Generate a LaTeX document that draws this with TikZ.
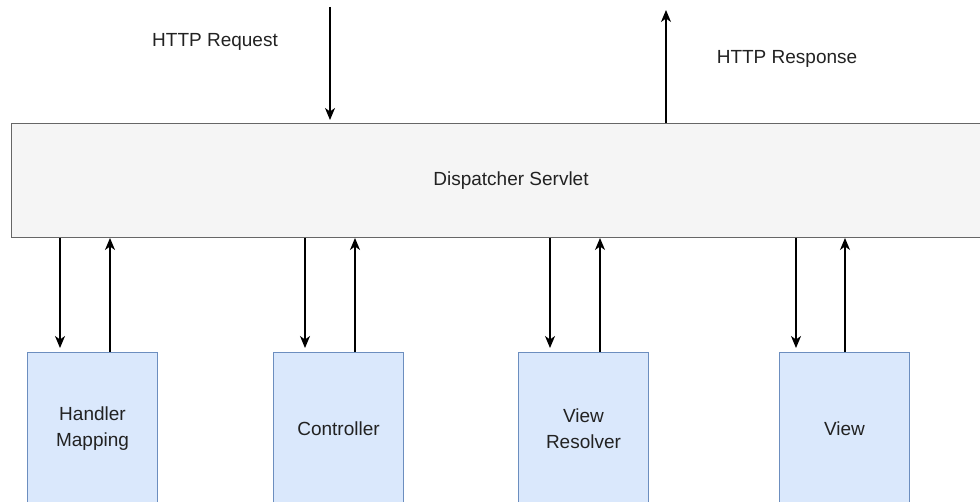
\documentclass[tikz,border=0pt]{standalone}
\usepackage{fontspec}
\setmainfont{Liberation Sans}
\usetikzlibrary{arrows.meta}
\definecolor{grayfill}{HTML}{F5F5F5}
\definecolor{grayline}{HTML}{666666}
\definecolor{bluefill}{HTML}{DAE8FC}
\definecolor{blueline}{HTML}{6C8EBF}
\definecolor{txt}{HTML}{222222}
\tikzset{
  dispbox/.style={draw=grayline, fill=grayfill, line width=1pt, minimum width=999pt, minimum height=114pt, inner sep=0pt, anchor=north west, text=txt, font=\fontsize{19}{23}\selectfont},
  compbox/.style={draw=blueline, fill=bluefill, line width=1pt, minimum width=130pt, minimum height=152pt, inner sep=0pt, anchor=north west, text=txt, align=center, font=\fontsize{19}{26}\selectfont},
  lbl/.style={text=txt, font=\fontsize{19}{23}\selectfont, anchor=base, inner sep=0pt},
  arr/.style={-{Stealth[length=12pt,width=10pt,inset=3.5pt]}, line width=1.1pt, black},
}
\begin{document}
\begin{tikzpicture}[x=1pt,y=-1pt]
\useasboundingbox (0,0) rectangle (980,502);
\node[dispbox, text depth=4pt] (disp) at (11,123) {Dispatcher Servlet};
\node[compbox] (hm) at (27,352) {Handler\\Mapping};
\node[compbox] (ctrl) at (273,352) {Controller};
\node[compbox] (vr) at (518,352) {View\\Resolver};
\node[compbox] (view) at (779,352) {View};
\node[lbl] (req) at (215,47) {HTTP Request};
\node[lbl] (resp) at (787,64) {HTTP Response};
\coordinate (reqtop) at (330,7);
\coordinate (resptop) at (666,10);
\coordinate (respx) at (666,0);
\draw[arr, shorten >=3pt] (reqtop) -- (reqtop |- disp.north);
\draw[arr] (respx |- disp.north) -- (resptop);
\foreach \n/\d/\u in {hm/60/110, ctrl/305/355, vr/550/600, view/796/845}{
  \coordinate (dx) at (\d,0);
  \coordinate (ux) at (\u,0);
  \draw[arr, shorten >=4pt] (disp.south -| dx) -- (\n.north -| dx);
  \draw[arr] (\n.north -| ux) -- (disp.south -| ux);
}
\end{tikzpicture}
\end{document}
